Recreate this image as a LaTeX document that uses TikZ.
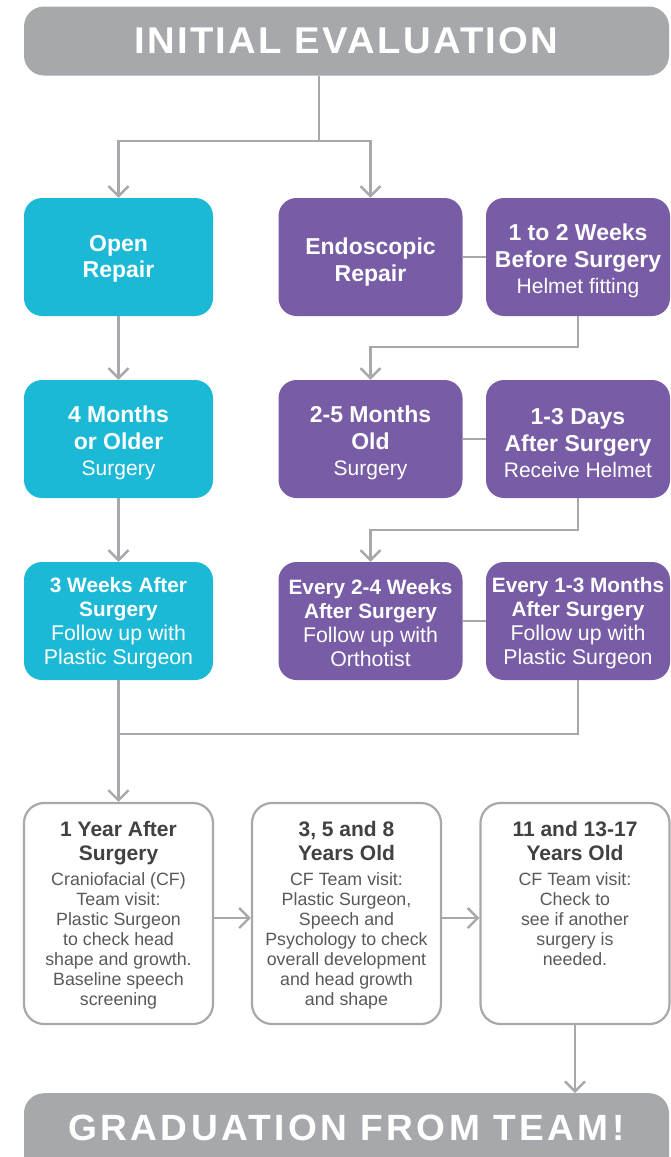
\documentclass[tikz,border=0pt]{standalone}
\usepackage{fontspec}
\usepackage{graphicx}
\setmainfont{Liberation Sans}
\usetikzlibrary{arrows.meta}
\definecolor{cfcyan}{HTML}{1BB9D5}
\definecolor{cfpurple}{HTML}{785CA6}
\definecolor{cfgray}{HTML}{A7A8AB}
\definecolor{cfdark}{HTML}{414042}
\definecolor{cftext}{HTML}{58595B}
\newcommand{\cfhd}[1]{{\bfseries #1}}
\newcommand{\cfrg}[1]{{\fontsize{21}{25}\selectfont #1}}
\newcommand{\cfrgs}[1]{{\fontsize{21.3}{24}\selectfont #1}}
\newcommand{\cfup}[1]{\rule{0pt}{#1}}
\newcommand{\cfwhite}[2]{\parbox[c][221pt][t]{189pt}{\vspace*{18pt}\centering
  {\fontsize{21}{24}\selectfont\bfseries\textcolor{cfdark}{#1}\par}\vspace{5pt}
  {\fontsize{17.8}{20}\selectfont\textcolor{cftext}{#2}\par}}}
\begin{document}
\begin{tikzpicture}[x=1pt,y=-1pt,
  conn/.style={draw=cfgray, line width=2.4pt},
  arr/.style={conn, -{Straight Barb[length=10pt,width=20pt]}},
  banner/.style={fill=cfgray, rounded corners=20pt, text=white, inner sep=0pt, minimum width=645pt},
  cbox/.style={fill=cfcyan, rounded corners=18pt, minimum width=189pt, minimum height=118pt,
    inner sep=0pt, text=white, align=center, font=\fontsize{23}{26.5}\selectfont},
  pbox/.style={cbox, fill=cfpurple, minimum width=184pt},
  cbox3/.style={cbox, font=\fontsize{20.8}{24}\selectfont},
  pbox3/.style={pbox, font=\fontsize{20.8}{24}\selectfont},
  wbox/.style={draw=cfgray, line width=2.2pt, fill=white, rounded corners=20pt, inner sep=0pt}
]
\path[use as bounding box] (0,0) rectangle (670,1157);

% banners
\node[banner, minimum height=69pt] (ini) at (346.5,41)
  {\resizebox{424pt}{26pt}{\bfseries\addfontfeatures{LetterSpace=6}INITIAL EVALUATION}};
\node[banner, anchor=north, inner ysep=22pt, text depth=30pt] (grad) at (346.5,1093)
  {\resizebox{556pt}{25.5pt}{\bfseries\addfontfeatures{LetterSpace=9}GRADUATION FROM TEAM!}};

% row 1
\node[cbox] (open) at (118.5,257) {\cfup{20pt}\cfhd{Open}\\\cfhd{Repair}};
\node[pbox] (endo) at (370.5,257) {\cfup{27pt}\cfhd{Endoscopic}\\\cfhd{Repair}};
\node[pbox] (w12) at (578,257) {\cfup{25pt}\cfhd{1 to 2 Weeks}\\\cfhd{Before Surgery}\\\cfrg{Helmet fitting}};

% row 2
\node[cbox] (m4) at (118.5,439) {\cfup{25pt}\cfhd{4 Months}\\\cfhd{or Older}\\\cfrg{Surgery}};
\node[pbox] (m25) at (370.5,439) {\cfup{25pt}\cfhd{2-5 Months}\\\cfhd{Old}\\\cfrg{Surgery}};
\node[pbox] (d13) at (578,439) {\cfup{25pt}\cfhd{1-3 Days}\\\cfhd{After Surgery}\\\cfrg{Receive Helmet}};

% row 3
\node[cbox3] (w3) at (118.5,621) {\cfup{20pt}\cfhd{3 Weeks After}\\\cfhd{Surgery}\\\cfrgs{Follow up with}\\\cfrgs{Plastic Surgeon}};
\node[pbox3] (e24) at (370.5,621) {\cfup{20pt}\cfhd{Every 2-4 Weeks}\\\cfhd{After Surgery}\\\cfrgs{Follow up with}\\\cfrgs{Orthotist}};
\node[pbox3] (e13) at (578,621) {\cfup{20pt}\cfhd{Every 1-3 Months}\\\cfhd{After Surgery}\\\cfrgs{Follow up with}\\\cfrgs{Plastic Surgeon}};

% row 4
\node[wbox] (y1) at (118.5,913.5) {\cfwhite{1 Year After\\Surgery}{Craniofacial (CF)\\Team visit:\\Plastic Surgeon\\to check head\\shape and growth.\\Baseline speech\\screening}};
\node[wbox] (y358) at (346.5,913.5) {\cfwhite{3, 5 and 8\\Years Old}{CF Team visit:\\Plastic Surgeon,\\Speech and\\Psychology to check\\overall development\\and head growth\\and shape}};
\node[wbox] (y1117) at (575,913.5) {\cfwhite{11 and 13-17\\Years Old}{CF Team visit:\\Check to\\see if another\\surgery is\\needed.}};

% connectors
\coordinate (split) at (319,141);
\draw[conn] (split |- ini.south) -- (split);
\draw[arr] (split) -| (open.north);
\draw[arr] (split) -| (endo.north);
\draw[conn] (endo.east) -- (w12.west);
\draw[arr] (open.south) -- (m4.north);
\draw[arr] (w12.south) -- ++(0,31) -| (m25.north);
\draw[conn] (m25.east) -- (d13.west);
\draw[arr] (m4.south) -- (w3.north);
\draw[arr] (d13.south) -- ++(0,32) -| (e24.north);
\draw[conn] (e24.east) -- (e13.west);
\coordinate (jn) at (118.5,734);
\draw[conn] (e13.south) |- (jn);
\draw[arr] (w3.south) -- (y1.north);
\draw[arr] ([yshift=-4.5pt]y1.east) -- ([yshift=-4.5pt]y358.west);
\draw[arr] ([yshift=-4.5pt]y358.east) -- ([yshift=-4.5pt]y1117.west);
\draw[arr] (y1117.south) -- (y1117.south |- grad.north);
\end{tikzpicture}
\end{document}
